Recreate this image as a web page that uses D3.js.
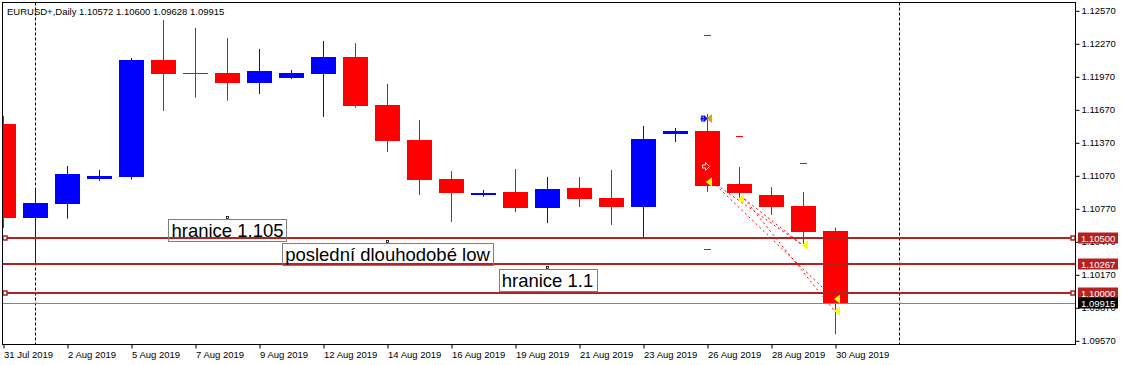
<!DOCTYPE html>
<html><head><meta charset="utf-8">
<script src="https://cdn.jsdelivr.net/npm/d3@7"></script>
<style>html,body{margin:0;padding:0;background:#fff;overflow:hidden}svg{display:block}</style>
</head><body>
<svg id="chart" width="1122" height="365"></svg>
<script>
// ---------------- data ----------------
const title = "EURUSD+,Daily  1.10572 1.10600 1.09628 1.09915";
const dates = ["2019-07-31","2019-08-01","2019-08-02","2019-08-04","2019-08-05","2019-08-06","2019-08-07","2019-08-08","2019-08-09","2019-08-11","2019-08-12","2019-08-13","2019-08-14","2019-08-15","2019-08-16","2019-08-18","2019-08-19","2019-08-20","2019-08-21","2019-08-22","2019-08-23","2019-08-25","2019-08-26","2019-08-27","2019-08-28","2019-08-29","2019-08-30"];
const open  = [1.11541,1.10689,1.10816,1.11044,1.11059,1.12123,1.12005,1.12005,1.11914,1.11959,1.11995,1.12150,1.11714,1.11395,1.11041,1.10909,1.10923,1.10777,1.10959,1.10868,1.10786,1.11450,1.11477,1.10995,1.10895,1.10795,1.10572];
const high  = [1.11614,1.10959,1.11159,1.11123,1.12141,1.12486,1.12414,1.12323,1.12223,1.12032,1.12295,1.12277,1.11905,1.11577,1.11114,1.10941,1.11132,1.11059,1.11059,1.11123,1.11523,1.11505,1.11632,1.11150,1.10968,1.10923,1.10600];
const low   = [1.10595,1.10267,1.10680,1.11025,1.11035,1.11659,1.11780,1.11753,1.11814,1.11950,1.11605,1.11689,1.11286,1.10895,1.10650,1.10880,1.10741,1.10641,1.10786,1.10623,1.10505,1.11377,1.10923,1.10859,1.10714,1.10441,1.09628];
const close = [1.10689,1.10823,1.11086,1.11068,1.12123,1.11995,1.12000,1.11914,1.12023,1.12005,1.12150,1.11705,1.11386,1.11032,1.10914,1.10912,1.10777,1.10950,1.10859,1.10786,1.11405,1.11477,1.10977,1.10914,1.10786,1.10559,1.09915];

const dateTicks = ["2019-07-31","2019-08-02","2019-08-05","2019-08-07","2019-08-09","2019-08-12","2019-08-14","2019-08-16","2019-08-19","2019-08-21","2019-08-23","2019-08-26","2019-08-28","2019-08-30"];
const priceTicks = [1.12570,1.12270,1.11970,1.11670,1.11370,1.11070,1.10770,1.10470,1.10170,1.09870,1.09570];
const priceRange = [1.095318, 1.126409];
const barRange = [0, 33.5];
const separatorBars = [1, 28];

const levelPrices = [1.10500, 1.10267, 1.10000];
const levelSquares = [true, false, true];
const bidPrice = 1.09915;

const noteText  = ["hranice 1.105", "poslední dlouhodobé low", "hranice 1.1"];
const noteBar   = [7, 12, 17];
const notePrice = [1.10677, 1.10459, 1.10223];

const tradeOpenBar   = [22, 22, 23, 23];
const tradeOpenPrice = [1.11014, 1.11014, 1.10859, 1.10859];
const tradeCloseBar  = [25, 26, 26, 25];
const tradeClosePrice= [1.10441, 1.09950, 1.09841, 1.10441];

const dashBar   = [22, 23, 25, 22];
const dashPrice = [1.12350, 1.11432, 1.11186, 1.10405];

const buyArrowBar = 22, buyArrowPrice = 1.11590;
const whiteArrowBar = 22, whiteArrowPrice = 1.11155;

// ---------------- drawing ----------------
const svg = d3.select("#chart");
const L = 2.5, T = 2.5, R = 1075.5, B = 344.5;
const FONT = "'Liberation Sans', Arial, sans-serif";
const x = d3.scaleLinear().domain(barRange).range([3.5, 1075.5]);
const y = d3.scaleLinear().domain(priceRange).range([345, 3]);
const BULL = "#0000FF", BEAR = "#FF0000", LEVEL = "#B22222";

svg.append("defs").append("clipPath").attr("id","clip")
  .append("rect").attr("x",3).attr("y",3).attr("width",R-3).attr("height",B-3);

const plot = svg.append("g").attr("clip-path","url(#clip)");

// separators
plot.selectAll("line.sep").data(separatorBars).enter().append("line")
  .attr("x1",d=>x(d)).attr("x2",d=>x(d)).attr("y1",T).attr("y2",B)
  .attr("stroke","#000").attr("stroke-width",1).attr("stroke-dasharray","3,2");

// candles
const bars = d3.range(dates.length);
const cg = plot.append("g");
cg.selectAll("line.wick").data(bars).enter().append("line")
  .attr("x1",i=>x(i)).attr("x2",i=>x(i))
  .attr("y1",i=>y(high[i])).attr("y2",i=>y(low[i]))
  .attr("stroke",i=>close[i]>=open[i]?BULL:BEAR).attr("stroke-width",1);
cg.selectAll("rect.body").data(bars).enter().append("rect")
  .attr("x",i=>x(i)-12.5).attr("width",25)
  .attr("y",i=>y(Math.max(open[i],close[i])))
  .attr("height",i=>Math.max(1.5, Math.abs(y(open[i])-y(close[i]))))
  .attr("fill",i=>close[i]>=open[i]?BULL:BEAR)
  .attr("shape-rendering","crispEdges");

// horizontal levels
plot.selectAll("line.lvl").data(levelPrices).enter().append("line")
  .attr("x1",L).attr("x2",R).attr("y1",d=>Math.round(y(d))).attr("y2",d=>Math.round(y(d)))
  .attr("stroke",LEVEL).attr("stroke-width",2);
plot.append("line").attr("x1",L).attr("x2",R)
  .attr("y1",Math.round(y(bidPrice))+0.5).attr("y2",Math.round(y(bidPrice))+0.5)
  .attr("stroke","#778899").attr("stroke-width",1);
levelPrices.forEach((p,k)=>{
  if(!levelSquares[k]) return;
  [5, 1073].forEach(cx=>{
    plot.append("rect").attr("x",cx-2).attr("y",Math.round(y(p))-2).attr("width",4).attr("height",4)
      .attr("fill","#fff").attr("stroke",LEVEL).attr("stroke-width",1.5);
  });
});

// small red dashes
plot.selectAll("line.dash").data(dashBar).enter().append("line")
  .attr("x1",(d,k)=>x(d)-3.5).attr("x2",(d,k)=>x(d)+3.5)
  .attr("y1",(d,k)=>Math.round(y(dashPrice[k]))+0.5).attr("y2",(d,k)=>Math.round(y(dashPrice[k]))+0.5)
  .attr("stroke",BEAR).attr("stroke-width",1);

// trade lines
tradeOpenBar.forEach((ob,k)=>{
  plot.append("line")
    .attr("x1",x(ob)+5).attr("y1",y(tradeOpenPrice[k]))
    .attr("x2",x(tradeCloseBar[k])-1).attr("y2",y(tradeClosePrice[k]))
    .attr("stroke",BEAR).attr("stroke-width",1).attr("stroke-dasharray","2,3");
});
// triangles
function tri(bar, price, fill){
  const cx = x(bar)-1.5, cy = y(price);
  plot.append("path").attr("d",`M${cx},${cy}L${cx+6},${cy-4.5}L${cx+6},${cy+4.5}Z`).attr("fill",fill);
}
tradeOpenBar.forEach((b,k)=>tri(b,tradeOpenPrice[k],"#FFFF00"));
tradeCloseBar.forEach((b,k)=>tri(b,tradeClosePrice[k],"#FFFF00"));
tri(buyArrowBar, buyArrowPrice, "#DAA520");
// blue arrow
{
  const cx = x(buyArrowBar)-2, cy = y(buyArrowPrice);
  plot.append("path").attr("d",`M${cx-5},${cy}L${cx},${cy}M${cx-2},${cy-3}L${cx+1},${cy}L${cx-2},${cy+3}M${cx-3.5},${cy-3}L${cx-3.5},${cy+3}`)
    .attr("stroke",BULL).attr("stroke-width",1.6).attr("fill","none");
}
// white outline arrow
{
  const cx = x(whiteArrowBar)-2, cy = y(whiteArrowPrice);
  plot.append("path").attr("d",`M${cx-3},${cy-1.5}L${cx},${cy-1.5}L${cx},${cy-4}L${cx+4},${cy}L${cx},${cy+4}L${cx},${cy+1.5}L${cx-3},${cy+1.5}Z`)
    .attr("stroke","#fff").attr("stroke-width",1).attr("fill","none");
}

// annotations
noteText.forEach((t,k)=>{
  const cx = x(noteBar[k]), top = Math.round(y(notePrice[k]))+0.5;
  const g = plot.append("g");
  const rect = g.append("rect");
  const txt = g.append("text").attr("x",cx).attr("y",top+17.5).attr("text-anchor","middle")
    .attr("font-family",FONT).attr("font-size","18.5px").attr("fill","#000").text(t);
  const w = txt.node().getComputedTextLength();
  rect.attr("x",Math.round(cx-w/2-3)+0.5).attr("y",top).attr("width",Math.round(w+6)).attr("height",22)
    .attr("fill","none").attr("stroke","#808080").attr("stroke-width",1);
  g.append("rect").attr("x",Math.round(cx)-1.5).attr("y",top-3).attr("width",2).attr("height",2)
    .attr("fill","none").attr("stroke","#000").attr("stroke-width",0.8);
});

// border
svg.append("rect").attr("x",L).attr("y",T).attr("width",R-L).attr("height",B-T)
  .attr("fill","none").attr("stroke","#000").attr("stroke-width",1);

// title
svg.append("text").attr("x",7).attr("y",15).attr("font-family",FONT).attr("font-size","9.5px")
  .attr("fill","#000").text(title);

// axes
const fmtDate = d3.timeFormat("%-d %b %Y"), parse = d3.timeParse("%Y-%m-%d");
const xAxis = d3.axisBottom(x)
  .tickValues(dateTicks.map(d=>dates.indexOf(d)))
  .tickFormat(i=>fmtDate(parse(dates[i]))).tickSize(4).tickSizeOuter(0);
const gx = svg.append("g").attr("transform",`translate(0,${B})`).call(xAxis);
gx.select(".domain").remove();
gx.selectAll("text").attr("text-anchor","start").attr("x",0).attr("y",7)
  .attr("font-family",FONT).attr("font-size","9.5px").attr("fill","#000");
gx.selectAll("line").attr("stroke","#000");

const yAxis = d3.axisRight(y).tickValues(priceTicks).tickFormat(d3.format(".5f")).tickSize(4).tickSizeOuter(0);
const gy = svg.append("g").attr("transform",`translate(${R},0)`).call(yAxis);
gy.select(".domain").remove();
gy.selectAll("text").attr("x",6).attr("font-family",FONT).attr("font-size","9.5px").attr("fill","#000");
gy.selectAll("line").attr("stroke","#000");

// price tags
function tag(p, label, bg){
  const cy = Math.round(y(p));
  svg.append("rect").attr("x",1078).attr("y",cy-5.5).attr("width",40).attr("height",11).attr("fill",bg);
  svg.append("text").attr("x",1081).attr("y",cy+3.5).attr("font-family",FONT).attr("font-size","9.5px")
    .attr("fill","#fff").text(label);
}
levelPrices.forEach(p=>tag(p, d3.format(".5f")(p), LEVEL));
tag(bidPrice, d3.format(".5f")(bidPrice), "#000");
</script>
</body></html>
